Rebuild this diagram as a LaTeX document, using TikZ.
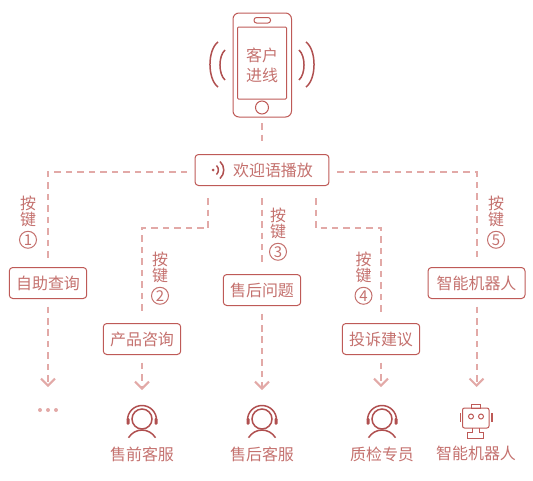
\documentclass[tikz,border=0pt]{standalone}
\usepackage{fontspec}
\setmainfont{Noto Sans CJK SC}
\usetikzlibrary{arrows.meta,positioning}
\definecolor{boxline}{HTML}{BE5A57}
\definecolor{iconline}{HTML}{B05050}
\definecolor{flowline}{HTML}{E2A9A7}
\definecolor{labeltext}{HTML}{C4716E}
\tikzset{
  box/.style={draw=boxline,line width=0.02cm,rounded corners=0.07cm,text=labeltext,font=\fontsize{9.1pt}{10pt}\selectfont,
    minimum height=0.62cm,inner xsep=0.135cm,inner ysep=0pt,outer sep=0.16cm},
  flow/.style={draw=flowline,line width=0.04cm,dash pattern=on 0.13cm off 0.1cm,>={Straight Barb[length=0.14cm,width=0.28cm]}},
  keytext/.style={text=labeltext,font=\fontsize{9.1pt}{0.32cm}\selectfont,align=center,inner sep=0pt},
  keynum/.style={circle,draw=labeltext,line width=0.02cm,text=labeltext,font=\fontsize{8.5pt}{10pt}\selectfont,inner sep=0pt,minimum size=0.34cm},
  caption/.style={text=labeltext,font=\fontsize{9.1pt}{10pt}\selectfont,inner sep=0pt},
  icon/.style={draw=iconline,line width=0.03cm},
  thin icon/.style={draw=boxline,line width=0.02cm},
  agent/.pic={
    \draw [icon] (0,0) circle [radius=10];
    \draw [icon] (-14.5,1) arc [start angle=180,end angle=360,radius=14.5];
    \fill [iconline,rounded corners=0.02cm] (-15.5,-1) rectangle (-12.5,5.5);
    \fill [iconline,rounded corners=0.02cm] (12.5,-1) rectangle (15.5,5.5);
    \draw [icon] (-13.5,18.7) .. controls (-7,8.5) and (7,8.5) .. (13.5,18.7);
  }
}
\begin{document}
\begin{tikzpicture}[x=0.02cm,y=-0.02cm]
  \useasboundingbox (0,0) rectangle (533,480);
  % phone
  \draw [thin icon,rounded corners=0.12cm] (233,13) rectangle (291.5,117);
  \draw [thin icon,rounded corners=0.02cm] (237.5,27) rectangle (286.5,99);
  \draw [thin icon,rounded corners=0.05cm] (254,17.5) rectangle (270.5,23);
  \draw [thin icon] (262,107.5) circle [radius=6.5];
  \node [caption] (calltext) at (262,55) {客户};
  \node [caption] (calltext2) at (262,75) {进线};
  \draw [icon] (218,42) .. controls (207.3,50) and (207.3,79) .. (218,87);
  \draw [icon] (225,50) .. controls (218.3,56) and (218.3,74) .. (225,80);
  \draw [icon] (299,50) .. controls (305.7,56) and (305.7,74) .. (299,80);
  \draw [icon] (306,42) .. controls (316.7,50) and (316.7,79) .. (306,87);
  % welcome box
  \node [box,minimum width=2.68cm] (welcome) at (262,170) {\hspace{0.44cm}欢迎语播放};
  \fill [iconline] (213,170) circle [radius=1.5];
  \draw [icon] (216.5,165.5) .. controls (219,168) and (219,172) .. (216.5,174.5);
  \draw [icon] (220,161.5) .. controls (225,166) and (225,174) .. (220,178.5);
  % menu boxes
  \node [box] (selfquery) at (48,283) {自助查询};
  \node [box] (product) at (142,339) {产品咨询};
  \node [box] (aftersale) at (262,290) {售后问题};
  \node [box] (complain) at (381,339) {投诉建议};
  \node [box,minimum width=1.94cm] (robotbox) at (476.5,283) {智能机器人};
  % connector ends
  \coordinate (phonebottom) at (262,123);
  \coordinate (welcometop) at (262,142);
  \coordinate (outa) at (187,172);
  \coordinate (outb) at (208,198);
  \coordinate (outc) at (262,198);
  \coordinate (outd) at (316,198);
  \coordinate (oute) at (337,172);
  \coordinate (bendb) at (142,228);
  \coordinate (bendd) at (381,228);
  \coordinate (enda) at (48,387);
  \coordinate (endb) at (142,390);
  \coordinate (endc) at (262,390);
  \coordinate (endd) at (381,387);
  \coordinate (ende) at (476.5,387);
  \draw [flow] (phonebottom) -- (welcometop);
  \draw [flow] (outa) -| (selfquery.north);
  \draw [flow] (outb) |- (bendb) -- (product.north);
  \draw [flow] (outc) -- (aftersale.north);
  \draw [flow] (outd) |- (bendd) -- (complain.north);
  \draw [flow] (oute) -| (robotbox.north);
  \draw [flow,->] (selfquery.south) -- (enda);
  \draw [flow,->] (product.south) -- (endb);
  \draw [flow,->] (aftersale.south) -- (endc);
  \draw [flow,->] (complain.south) -- (endd);
  \draw [flow,->] (robotbox.south) -- (ende);
  % key labels
  \foreach \n/\x/\y in {1/28/211,2/160/267,3/278/223,4/363.5/267,5/496/211} {
    \node [keytext] (key\n) at (\x,\y) {按\\键};
    \node [keynum,below=0.08cm of key\n] (num\n) {\n};
  }
  % bottom row
  \foreach \x in {40,48,56}
    \fill [flowline] (\x,410) circle [radius=2];
  \pic at (142,419) {agent};
  \pic at (262,419) {agent};
  \pic at (382,419) {agent};
  \node [caption] (agentb) at (142,454) {售前客服};
  \node [caption] (agentc) at (262,454) {售后客服};
  \node [caption] (agentd) at (382,454) {质检专员};
  \node [caption] (agente) at (476,453.5) {智能机器人};
  % robot
  \draw [thin icon] (471,404) rectangle (480,408);
  \draw [thin icon,rounded corners=0.04cm] (462.5,408) rectangle (489,428);
  \draw [thin icon] (471,416.5) circle [radius=2.5];
  \draw [thin icon] (481,416.5) circle [radius=2.5];
  \fill [boxline] (459.5,413) rectangle (461,422);
  \fill [boxline] (491,413) rectangle (492.5,422);
  \draw [thin icon] (472,428) -- (472,432) -- (467.5,432) -- (467.5,438) -- (483.5,438) -- (483.5,432) -- (479,432) -- (479,428);
\end{tikzpicture}
\end{document}
